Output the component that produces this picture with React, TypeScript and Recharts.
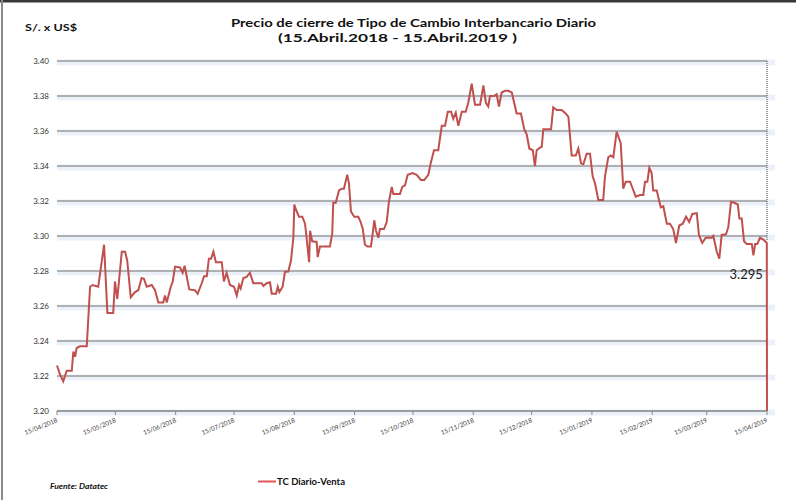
import React from 'react';
import { LineChart, Line, XAxis, YAxis, CartesianGrid, ReferenceLine, ReferenceDot } from 'recharts';

// day offsets from 15/04/2018
const dayOffsets = [
  0, 1.5, 3.2, 5.0, 7.6, 8.4, 9.3, 10.1, 11.8, 15.3, 17.0, 18.4, 21.2, 24.2, 25.9, 28.9, 29.8, 31.0, 33.3, 35.0,
  36.1, 37.9, 40.1, 41.8, 43.5, 44.7, 46.1, 48.7, 50.4, 52.1, 54.6, 55.5, 56.4, 58.5, 59.5, 60.7, 63.2, 64.6, 65.6, 68.0,
  70.9, 72.3, 74.4, 75.6, 77.0, 78.1, 79.2, 80.4, 81.7, 84.7, 85.8, 87.2, 88.9, 91.0, 92.4, 93.6, 94.4, 95.8, 97.5, 99.2,
  100.9, 105.2, 106.1, 107.8, 109.5, 110.4, 112.6, 113.5, 114.3, 116.0, 117.2, 118.9, 120.3, 121.5, 122.0, 123.2, 124.4, 126.1, 127.5, 128.4,
  129.6, 130.1, 131.2, 133.5, 134.0, 135.2, 140.3, 141.5, 142.0, 143.3, 145.0, 146.4, 147.5, 149.2, 150.1, 151.1, 152.8, 154.9, 156.1, 157.2,
  158.3, 159.7, 161.4, 162.3, 163.1, 164.0, 165.2, 166.0, 168.1, 169.5, 170.7, 172.1, 172.9, 176.3, 177.5, 178.9, 180.3, 182.7, 184.9, 187.1,
  188.8, 190.9, 192.1, 193.8, 196.0, 197.8, 199.5, 200.9, 202.6, 203.7, 205.0, 206.3, 208.1, 210.1, 211.4, 213.2, 214.9, 217.5, 219.2, 220.5,
  221.7, 222.6, 224.7, 226.0, 227.2, 228.6, 230.3, 232.0, 233.8, 236.3, 238.5, 240.2, 241.5, 242.8, 244.6, 245.7, 246.6, 248.3, 249.2, 250.0,
  254.0, 255.1, 256.9, 259.4, 261.5, 262.9, 264.6, 266.7, 268.0, 269.4, 270.6, 272.3, 274.0, 275.4, 276.6, 278.3, 280.8, 281.7, 283.4, 284.6,
  286.0, 287.7, 289.8, 291.1, 292.4, 294.6, 296.0, 297.5, 299.7, 301.4, 302.3, 303.5, 304.5, 305.7, 306.5, 308.3, 310.4, 311.7, 313.5, 315.1,
  316.8, 318.2, 319.9, 321.7, 323.4, 325.0, 326.6, 328.9, 330.0, 331.7, 333.5, 336.6, 337.4, 339.2, 340.5, 341.7, 343.9, 345.1, 346.5, 348.2,
  350.0, 350.8, 352.0, 353.2, 354.6, 357.2, 358.0, 358.9, 360.0, 361.4, 363.1, 364.9, 365,
];

const tcVenta = [
  3.226, 3.221, 3.217, 3.223, 3.223, 3.234, 3.231, 3.236, 3.237, 3.237, 3.271, 3.272, 3.271, 3.295, 3.256, 3.256, 3.274, 3.264, 3.291, 3.291,
  3.286, 3.265, 3.268, 3.269, 3.276, 3.2755, 3.271, 3.272, 3.269, 3.262, 3.262, 3.266, 3.262, 3.271, 3.274, 3.2825, 3.282, 3.279, 3.283, 3.2695,
  3.269, 3.267, 3.273, 3.277, 3.277, 3.287, 3.287, 3.291, 3.285, 3.285, 3.274, 3.279, 3.272, 3.271, 3.266, 3.272, 3.270, 3.276, 3.2766, 3.279,
  3.273, 3.273, 3.2714, 3.273, 3.2735, 3.267, 3.267, 3.271, 3.268, 3.271, 3.2796, 3.2797, 3.286, 3.299, 3.318, 3.314, 3.311, 3.311, 3.307, 3.298,
  3.285, 3.303, 3.297, 3.2966, 3.288, 3.294, 3.294, 3.3015, 3.319, 3.319, 3.326, 3.327, 3.327, 3.335, 3.330, 3.314, 3.311, 3.311, 3.308, 3.304,
  3.295, 3.294, 3.294, 3.3015, 3.309, 3.303, 3.299, 3.304, 3.304, 3.308, 3.320, 3.328, 3.324, 3.324, 3.328, 3.329, 3.335, 3.336, 3.335, 3.332,
  3.332, 3.335, 3.3415, 3.349, 3.349, 3.363, 3.363, 3.371, 3.371, 3.367, 3.3705, 3.363, 3.371, 3.371, 3.376, 3.387, 3.375, 3.375, 3.386, 3.376,
  3.374, 3.380, 3.380, 3.381, 3.374, 3.382, 3.383, 3.383, 3.382, 3.370, 3.370, 3.361, 3.358, 3.350, 3.349, 3.340, 3.349, 3.3505, 3.351, 3.361,
  3.361, 3.3735, 3.372, 3.372, 3.370, 3.368, 3.346, 3.346, 3.350, 3.3415, 3.341, 3.347, 3.347, 3.334, 3.330, 3.3206, 3.3206, 3.334, 3.345, 3.346,
  3.345, 3.3596, 3.353, 3.327, 3.331, 3.331, 3.327, 3.3225, 3.3234, 3.3234, 3.331, 3.331, 3.339, 3.336, 3.326, 3.326, 3.3164, 3.317, 3.307, 3.307,
  3.304, 3.296, 3.306, 3.307, 3.311, 3.308, 3.3126, 3.313, 3.3006, 3.296, 3.299, 3.299, 3.300, 3.291, 3.287, 3.3006, 3.301, 3.305, 3.3196, 3.319,
  3.318, 3.310, 3.310, 3.297, 3.2954, 3.2954, 3.289, 3.2954, 3.2954, 3.299, 3.298, 3.296, 3.2,
];

const tickDays = [0, 30, 61, 91, 122, 153, 183, 214, 244, 275, 306, 334, 365];
const tickLabels = [
  '15/04/2018', '15/05/2018', '15/06/2018', '15/07/2018', '15/08/2018', '15/09/2018', '15/10/2018',
  '15/11/2018', '15/12/2018', '15/01/2019', '15/02/2019', '15/03/2019', '15/04/2019',
];
const yTicks = [3.2, 3.22, 3.24, 3.26, 3.28, 3.3, 3.32, 3.34, 3.36, 3.38, 3.4];

const lastValueLabel = '3.295';
const seriesName = 'TC Diario-Venta';

const data = dayOffsets.map((d, i) => ({ day: d, venta: tcVenta[i] }));
const lastPoint = data[data.length - 2];

const FONT = 'Lato, "Open Sans", sans-serif';

const XTick = (props: any) => {
  const { x, y, payload } = props;
  const idx = tickDays.indexOf(payload.value);
  return (
    <g transform={`translate(${x + 1},${y + 5})`}>
      <text textAnchor="end" fontSize={6.3} fill="#333" fontFamily={FONT} transform="rotate(-22)">
        {tickLabels[idx]}
      </text>
    </g>
  );
};

const GridLine = (props: any) => {
  const { x1, y1, x2, y2 } = props;
  return (
    <g>
      <line x1={x1} y1={y1 + 1.5} x2={x2 + 8} y2={y2 + 1.5} stroke="#e4ebf6" strokeWidth={6} strokeOpacity={0.7} />
      <line x1={x1} y1={y1} x2={x2} y2={y2} stroke="#9a9a9a" strokeWidth={1.3} />
    </g>
  );
};

const DotLabel = (props: any) => {
  const vb = props.viewBox || {};
  return (
    <text x={vb.x - 4} y={vb.y + 36} textAnchor="end" fontSize={13} fill="#222" fontFamily={FONT}>
      {lastValueLabel}
    </text>
  );
};

export default function App() {
  return (
    <div style={{ position: 'relative', width: 796, height: 500, background: '#fff', overflow: 'hidden' }}>
      <style>{`body{margin:0;}`}</style>
      <LineChart width={796} height={500} data={data} margin={{ top: 61, right: 29, left: 17, bottom: 49 }}>
        <CartesianGrid vertical={false} horizontal={(p: any) => <GridLine {...p} />} />
        <XAxis
          type="number"
          dataKey="day"
          domain={[0, 365]}
          ticks={tickDays}
          interval={0}
          height={40}
          tick={<XTick />}
          tickSize={4}
          stroke="#888"
        />
        <YAxis
          type="number"
          domain={[3.2, 3.4]}
          ticks={yTicks}
          interval={0}
          width={40}
          axisLine={false}
          tickLine={false}
          tickFormatter={(v: number) => v.toFixed(2)}
          tick={{ fontSize: 8, fill: '#333', fontFamily: FONT }}
        />
        <ReferenceLine
          segment={[{ x: 365, y: 3.4 }, { x: 365, y: 3.297 }]}
          stroke="#444"
          strokeDasharray="1 1"
        />
        <Line
          type="linear"
          dataKey="venta"
          stroke="#c0504d"
          strokeWidth={2}
          dot={false}
          isAnimationActive={false}
        />
        <ReferenceDot x={lastPoint.day} y={lastPoint.venta} r={0} stroke="none" fill="none" label={<DotLabel />} />
      </LineChart>
      <svg width={796} height={500} style={{ position: 'absolute', left: 0, top: 0, pointerEvents: 'none' }}>
        <rect x={0} y={0} width={796} height={2.5} fill="#383838" />
        <rect x={1} y={0} width={2} height={500} fill="#8a8a8a" />
        <text x={25} y={31} fontSize={10} fontWeight="bold" fill="#111" fontFamily={FONT} textLength={52} lengthAdjust="spacingAndGlyphs">
          S/. x US$
        </text>
        <text x={231} y={27} fontSize={11} fontWeight="bold" fill="#111" fontFamily={FONT} textLength={365} lengthAdjust="spacingAndGlyphs">
          Precio de cierre de Tipo de Cambio Interbancario Diario
        </text>
        <text x={278} y={42} fontSize={11} fontWeight="bold" fill="#111" fontFamily={FONT} textLength={239} lengthAdjust="spacingAndGlyphs">
          (15.Abril.2018 - 15.Abril.2019 )
        </text>
        <text x={50} y={489} fontSize={7.5} fontWeight="bold" fontStyle="italic" fill="#111" fontFamily={FONT} textLength={58} lengthAdjust="spacingAndGlyphs">
          Fuente: Datatec
        </text>
        <line x1={258} y1={481.5} x2={276} y2={481.5} stroke="#e05555" strokeWidth={2} />
        <text x={277} y={484.5} fontSize={8.5} fontWeight="bold" fill="#111" fontFamily={FONT} textLength={68} lengthAdjust="spacingAndGlyphs">
          {seriesName}
        </text>
      </svg>
    </div>
  );
}
